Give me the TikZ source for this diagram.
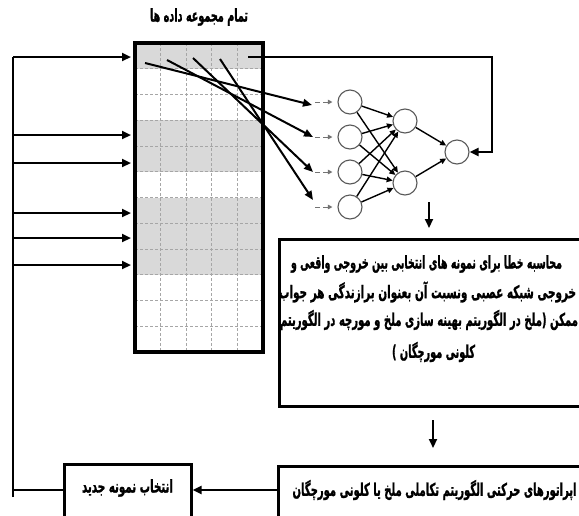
\documentclass[tikz,border=0pt]{standalone}
\usepackage{fontspec}
\usepackage{graphicx}
\usetikzlibrary{arrows.meta}
\newfontfamily\arabicfont[Script=Arabic,FakeBold=1.5]{DejaVu Sans Bold}
\TeXXeTstate=1
\newcommand{\fatext}[2]{\resizebox{#1pt}{\height}{\arabicfont\fontsize{17.5}{19}\selectfont #2}}
\definecolor{rowgray}{gray}{0.85}
\begin{document}
\begin{tikzpicture}[x=1pt,y=-1pt,
  tarr/.style={line width=2.2pt,-{Triangle[length=9pt,width=8pt]}},
  longarr/.style={line width=2pt,-{Triangle[length=9pt,width=7.5pt]}},
  netarr/.style={line width=1.4pt,-{Triangle[length=6pt,width=5.5pt]}},
  smallarr/.style={draw=black!55,line width=1pt,dash pattern=on 5pt off 3pt,-{Triangle[length=4.5pt,width=4.5pt]}},
  neuron/.style={circle,draw=black!65,line width=1.1pt,minimum size=24pt,inner sep=0pt},
  gridline/.style={draw=black!35,line width=0.7pt,dash pattern=on 3pt off 2pt},
  tablebox/.style={draw,line width=4pt,minimum width=128pt,minimum height=309pt,inner sep=0pt},
  framebox/.style={draw,line width=2.6pt,anchor=north west,inner sep=0pt},
  txt/.style={inner sep=0pt}]
\useasboundingbox (0,0) rectangle (579,515);
\fill[white] (0,0) rectangle (579,515);
% title
\node[txt] (title) at (199,17) {\fatext{98}{\beginR تمام مجموعه داده ها\endR}};
% table fills and grid
\fill[rowgray] (135,43) rectangle (263,68.75);
\fill[rowgray] (135,120.25) rectangle (263,171.75);
\fill[rowgray] (135,197.5) rectangle (263,274.75);
\foreach \i in {1,...,11} \draw[gridline] (135,{43+25.75*\i}) -- (263,{43+25.75*\i});
\foreach \x in {160.6,186.2,211.8,237.4} \draw[gridline] (\x,43) -- (\x,352);
\node[tablebox] (table) at (199,197.5) {};
% left feedback arrows
\draw[line width=2.2pt] (13,497) -- (13,57);
\foreach \y [count=\k] in {57,135,163,213,238,265} {
  \coordinate (l\k) at (13,\y);
  \draw[tarr,shorten >=2pt] (l\k) -- (l\k -| table.west);
}
% neurons
\node[neuron] (i1) at (350,102) {};
\node[neuron] (i2) at (350,137) {};
\node[neuron] (i3) at (350,172) {};
\node[neuron] (i4) at (350,207) {};
\node[neuron] (h1) at (405,121) {};
\node[neuron] (h2) at (405,183) {};
\node[neuron] (out) at (457,152) {};
% long arrows from table
\coordinate (s1) at (145,63); \coordinate (e1) at (312,105);
\coordinate (s2) at (167,60); \coordinate (e2) at (313,137);
\coordinate (s3) at (193,58); \coordinate (e3) at (313,172);
\coordinate (s4) at (220,59); \coordinate (e4) at (313,200);
\foreach \k in {1,...,4} \draw[longarr] (s\k) -- (e\k);
% small gray arrows
\foreach \k in {1,...,4} \draw[smallarr] ([xshift=-22pt]i\k.west) -- ([xshift=-5pt]i\k.west);
% network connections
\foreach \a in {1,...,4} \foreach \b in {1,2} \draw[netarr] (i\a) -- (h\b);
\draw[netarr] (h1) -- (out);
\draw[netarr] (h2) -- (out);
% top feedback
\coordinate (fb) at (248,57);
\draw[tarr] (fb) -- (492,57) |- (out);
% error box
\coordinate (d1s) at (429,202); \coordinate (d1e) at (429,228);
\draw[tarr] (d1s) -- (d1e);
\node[framebox,minimum width=322pt,minimum height=167pt] (errbox) at (278,238) {};
\node[txt] (err1) at (426.5,264) {\fatext{271}{\beginR محاسبه خطا برای نمونه های انتخابی بین خروجی واقعی و\endR}};
\node[txt] (err2) at (427.5,292) {\fatext{297}{\beginR خروجی شبکه عصبی ونسبت آن بعنوان برازندگی هر جواب\endR}};
\node[txt] (err3) at (429,320) {\fatext{298}{\beginR ممکن (ملخ در الگوریتم بهینه سازی ملخ و مورچه در الگوریتم\endR}};
\node[txt] (err4) at (433.5,352) {\fatext{83}{\beginR کلونی مورچگان )\endR}};
% operator box
\coordinate (d2s) at (433,420); \coordinate (d2e) at (433,448);
\draw[tarr] (d2s) -- (d2e);
\node[framebox,minimum width=330pt,minimum height=70pt] (opbox) at (277,465) {};
\node[txt] (optext) at (434.5,490) {\fatext{284}{\beginR اپراتورهای حرکتی الگوریتم تکاملی ملخ یا کلونی مورچگان\endR}};
% selection box
\node[framebox,minimum width=127pt,minimum height=70pt] (selbox) at (63,463) {};
\node[txt] (seltext) at (127.5,488) {\fatext{91}{\beginR انتخاب نمونه جدید\endR}};
\coordinate (ay) at (0,490);
\draw[tarr] (opbox.west |- ay) -- (selbox.east |- ay);
\draw[line width=2.2pt] (selbox.west |- ay) -- (13,490);
\end{tikzpicture}
\end{document}
